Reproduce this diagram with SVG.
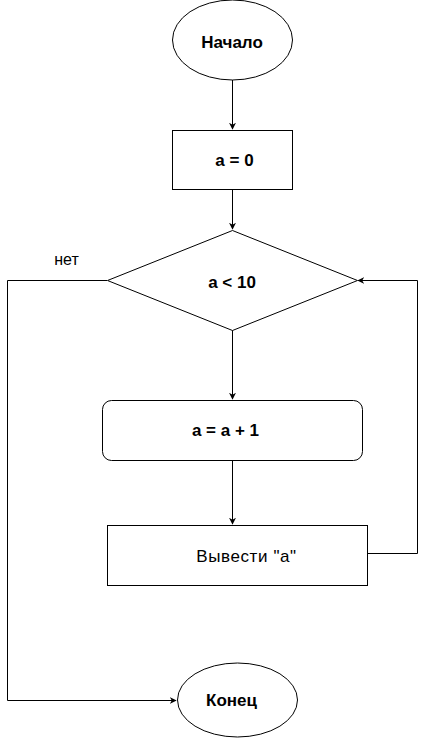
<svg xmlns="http://www.w3.org/2000/svg" width="426" height="741" viewBox="0 0 426 741">
  <style>
    .shape { fill: #ffffff; stroke: #000000; stroke-width: 1; }
    .edge { fill: none; stroke: #000000; stroke-width: 1; }
    .t { font-family: "Liberation Sans", Arial, sans-serif; font-size: 17px; fill: #000000; text-anchor: middle; }
    .b { font-weight: bold; }
  </style>
  <defs>
    <marker id="arrow" viewBox="0 0 10 10" refX="9" refY="5" markerWidth="7" markerHeight="7" markerUnits="userSpaceOnUse" orient="auto">
      <path d="M0,0 L10,5 L0,10 L3,5 Z" fill="#000000"/>
    </marker>
  </defs>
  <rect width="426" height="741" fill="#ffffff"/>

  <g id="connectors">
    <path class="edge" d="M232.5,80 L232.5,129" marker-end="url(#arrow)"/>
    <path class="edge" d="M232.5,190 L232.5,229" marker-end="url(#arrow)"/>
    <path class="edge" d="M232.5,330 L232.5,399" marker-end="url(#arrow)"/>
    <path class="edge" d="M232.5,460 L232.5,524" marker-end="url(#arrow)"/>
    <path class="edge" d="M367,553.5 L417.5,553.5 L417.5,280.5 L358,280.5" marker-end="url(#arrow)"/>
    <path class="edge" d="M107,280.5 L7.5,280.5 L7.5,700.5 L176,700.5" marker-end="url(#arrow)"/>
    <text class="t" x="66.5" y="264.5" style="font-size:16px">нет</text>
  </g>

  <g id="start">
    <ellipse class="shape" cx="232.5" cy="40" rx="60" ry="40"/>
    <text class="t b" x="232" y="47.5">Начало</text>
  </g>

  <g id="init">
    <rect class="shape" x="172.5" y="130.5" width="120" height="59"/>
    <text class="t b" x="234.5" y="165.5">a = 0</text>
  </g>

  <g id="condition">
    <polygon class="shape" points="232.5,230.5 357.5,280.5 232.5,330.5 107.5,280.5"/>
    <text class="t b" x="232" y="287.5">a &lt; 10</text>
  </g>

  <g id="increment">
    <rect class="shape" x="102.5" y="400.5" width="260" height="60" rx="9" ry="9"/>
    <text class="t b" x="225.5" y="436">a = a + 1</text>
  </g>

  <g id="output">
    <rect class="shape" x="107.5" y="525.5" width="260" height="60"/>
    <text class="t" x="246.5" y="562" style="letter-spacing:0.6px">Вывести "а"</text>
  </g>

  <g id="end">
    <ellipse class="shape" cx="237.5" cy="700" rx="60" ry="37"/>
    <text class="t b" x="231.5" y="706">Конец</text>
  </g>
</svg>
